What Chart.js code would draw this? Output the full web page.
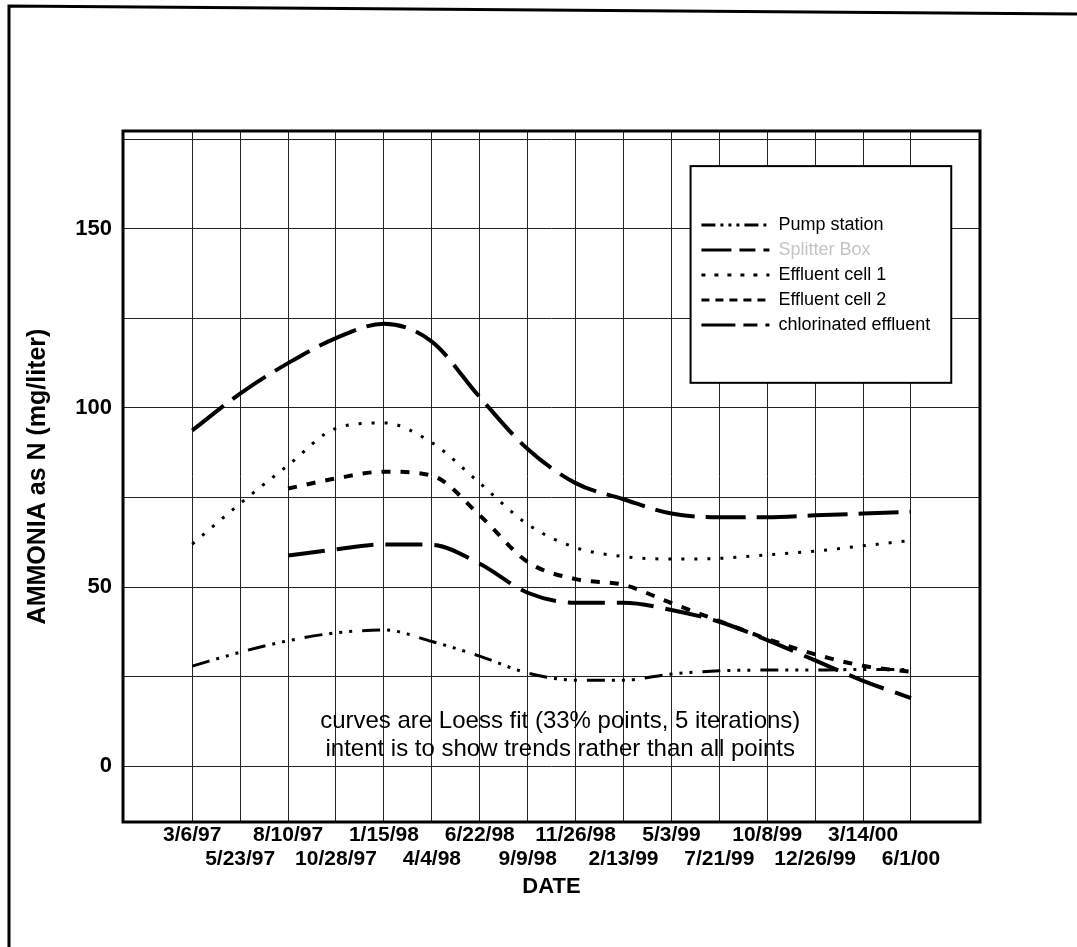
<!DOCTYPE html>
<html>
<head>
<meta charset="utf-8">
<script src="https://cdn.jsdelivr.net/npm/chart.js@4/dist/chart.umd.min.js"></script>
<style>
html,body{margin:0;padding:0;background:#fff;}
#wrap{position:relative;width:1077px;height:947px;}
</style>
</head>
<body>
<div id="wrap"><canvas id="c" width="1077" height="947"></canvas></div>
<script>
// ---- data ----
const dateLabels = ['3/6/97','5/23/97','8/10/97','10/28/97','1/15/98','4/4/98','6/22/98','9/9/98',
                    '11/26/98','2/13/99','5/3/99','7/21/99','10/8/99','12/26/99','3/14/00','6/1/00'];
const seriesNames = ['Pump station','Splitter Box','Effluent cell 1','Effluent cell 2','chlorinated effluent'];
const pumpStation   = [27.9, 31.8, 35.0, 37.2, 38.0, 34.8, 30.7, 26.0, 24.0, 24.0, 25.7, 26.6, 26.8, 26.8, 27.0, 27.0];
const splitterBox   = [93.7, 104.0, 112.5, 119.5, 123.5, 118.5, 103.0, 88.5, 79.0, 74.5, 70.5, 69.5, 69.5, 70.0, 70.5, 71.0];
const effluentCell1 = [62.0, 73.3, 84.0, 94.3, 95.8, 90.3, 79.0, 67.5, 61.0, 58.5, 57.8, 58.0, 59.0, 60.0, 61.5, 63.0];
const effluentCell2 = [null, null, 77.5, 80.3, 82.2, 81.1, 70.0, 57.0, 52.2, 50.6, 45.5, 40.5, 35.5, 31.2, 28.0, 26.3];
const chlorinated   = [null, null, 58.8, 60.5, 61.9, 61.8, 56.5, 48.4, 45.6, 45.6, 43.6, 40.3, 35.2, 29.5, 23.8, 19.0];
const yTickValues = [0, 25, 50, 75, 100, 125, 150, 175];
const yLabelValues = [0, 50, 100, 150];
const noteLines = ['curves are Loess fit (33% points, 5 iterations)',
                   'intent is to show trends rather than all points'];

const FONT = 'Liberation Sans, Arial, Helvetica, sans-serif';
const toXY = arr => arr.map((v, i) => ({x: i, y: v}));

function ds(label, data, dash, width) {
  return {
    label, data: toXY(data), borderColor: '#000', backgroundColor: 'rgba(0,0,0,0)',
    borderWidth: width, borderDash: dash, pointRadius: 0, pointHoverRadius: 0,
    cubicInterpolationMode: 'monotone', fill: false, spanGaps: false, borderCapStyle: 'butt'
  };
}

const decor = {
  id: 'decor',
  afterInit(chart) {
    const lg = chart.legend;
    lg._layers = () => [{ z: 1, draw: (area) => {
      const {ctx} = chart;
      const x = chart.scales.x, y = chart.scales.y;
      const l = x.getPixelForValue(10.4), r = x.getPixelForValue(15.84);
      const t = y.getPixelForValue(167.5), b = y.getPixelForValue(107);
      ctx.save();
      ctx.fillStyle = '#fff';
      ctx.fillRect(l, t, r - l, b - t);
      ctx.strokeStyle = '#000'; ctx.lineWidth = 2;
      ctx.strokeRect(l, t, r - l, b - t);
      ctx.restore();
      lg.draw(area);
    }}];
  },
  afterLayout(chart) {
    const lg = chart.legend;
    const x = chart.scales.x, y = chart.scales.y;
    lg.left = x.getPixelForValue(10.48);
    lg.top = y.getPixelForValue(155.5);
    lg.right = lg.left + 270;
    lg.bottom = lg.top + 160;
    lg.width = 270; lg.height = 160;
  },
  beforeDraw(chart) {
    const {ctx, width, height} = chart;
    ctx.save();
    ctx.fillStyle = '#fff';
    ctx.fillRect(0, 0, width, height);
    ctx.strokeStyle = '#000';
    ctx.lineWidth = 3;
    ctx.beginPath();
    ctx.moveTo(9, height); ctx.lineTo(9, 6); ctx.lineTo(width, 14);
    ctx.stroke();
    ctx.restore();
  },
  afterDatasetsDraw(chart) {
    const {ctx} = chart;
    const x = chart.scales.x, y = chart.scales.y;
    ctx.save();
    ctx.fillStyle = '#000';
    ctx.font = '24px ' + FONT;
    ctx.textAlign = 'center';
    ctx.textBaseline = 'middle';
    ctx.fillText(noteLines[0], x.getPixelForValue(7.68), y.getPixelForValue(12.5));
    ctx.fillText(noteLines[1], x.getPixelForValue(7.68), y.getPixelForValue(4.8));
    ctx.restore();
  },
  afterDraw(chart) {
    const {ctx} = chart;
    const a = chart.chartArea;
    ctx.save();
    ctx.strokeStyle = '#000';
    ctx.lineWidth = 3;
    ctx.strokeRect(a.left, a.top, a.right - a.left, a.bottom - a.top);
    ctx.restore();
  }
};

new Chart(document.getElementById('c'), {
  type: 'line',
  data: {
    datasets: [
      ds(seriesNames[0], pumpStation, [18, 7, 3, 7, 3, 7, 3, 10], 3),
      ds(seriesNames[1], splitterBox, [40, 11], 4),
      ds(seriesNames[2], effluentCell1, [3, 10], 3),
      ds(seriesNames[3], effluentCell2, [9, 10], 4),
      ds(seriesNames[4], chlorinated, [37, 12], 4)
    ]
  },
  options: {
    responsive: false,
    animation: false,
    events: [],
    layout: { padding: { top: 131, right: 97, left: 0, bottom: 0 } },
    plugins: {
      tooltip: { enabled: false },
      legend: {
        position: 'chartArea',
        align: 'start',
        labels: {
          usePointStyle: true,
          pointStyle: 'line',
          pointStyleWidth: 68,
          boxHeight: 18,
          padding: 7,
          color: '#000',
          font: { family: FONT, size: 18 },
          generateLabels(chart) {
            const items = Chart.defaults.plugins.legend.labels.generateLabels(chart);
            const legendDash = [[14, 5, 3, 5, 3, 5, 3, 5], [30, 8, 16, 8], [4, 9], [8, 6], [34, 8, 14, 8]];
            items.forEach((it, i) => {
              it.lineDash = legendDash[i];
              it.lineWidth = 3;
              it.strokeStyle = '#000';
              it.fillStyle = '#000';
            });
            items[1].fontColor = '#c4c4c4';
            return items;
          }
        }
      }
    },
    scales: {
      x: {
        type: 'linear',
        min: -1.445,
        max: 16.44,
        afterBuildTicks(axis) { axis.ticks = dateLabels.map((_, i) => ({ value: i })); },
        afterFit(axis) { axis.height = 125; },
        grid: { color: '#222', lineWidth: 1, drawTicks: false },
        border: { display: false },
        ticks: {
          autoSkip: false, maxRotation: 0, minRotation: 0, padding: 1,
          color: '#000',
          font: { family: FONT, size: 21, weight: 'bold', lineHeight: 1.15 },
          callback(value) {
            const i = Math.round(value);
            const s = dateLabels[i] || '';
            return i % 2 === 0 ? [s, ''] : ['', s];
          }
        },
        title: {
          display: true, text: 'DATE', color: '#000',
          font: { family: FONT, size: 22, weight: 'bold' },
          padding: { top: 0, bottom: 47 }
        }
      },
      y: {
        type: 'linear',
        min: -15.6,
        max: 177.3,
        afterBuildTicks(axis) { axis.ticks = yTickValues.map(v => ({ value: v })); },
        afterFit(axis) { axis.width = 123; },
        grid: { color: '#222', lineWidth: 1, drawTicks: false },
        border: { display: false },
        ticks: {
          padding: 11, color: '#000',
          font: { family: FONT, size: 22, weight: 'bold' },
          callback(value) { return yLabelValues.includes(value) ? String(value) : ''; }
        },
        title: {
          display: true, text: 'AMMONIA as N (mg/liter)', color: '#000',
          font: { family: FONT, size: 25, weight: 'bold' },
          padding: { top: 23, bottom: 0 }
        }
      }
    }
  },
  plugins: [decor]
});
</script>
</body>
</html>
